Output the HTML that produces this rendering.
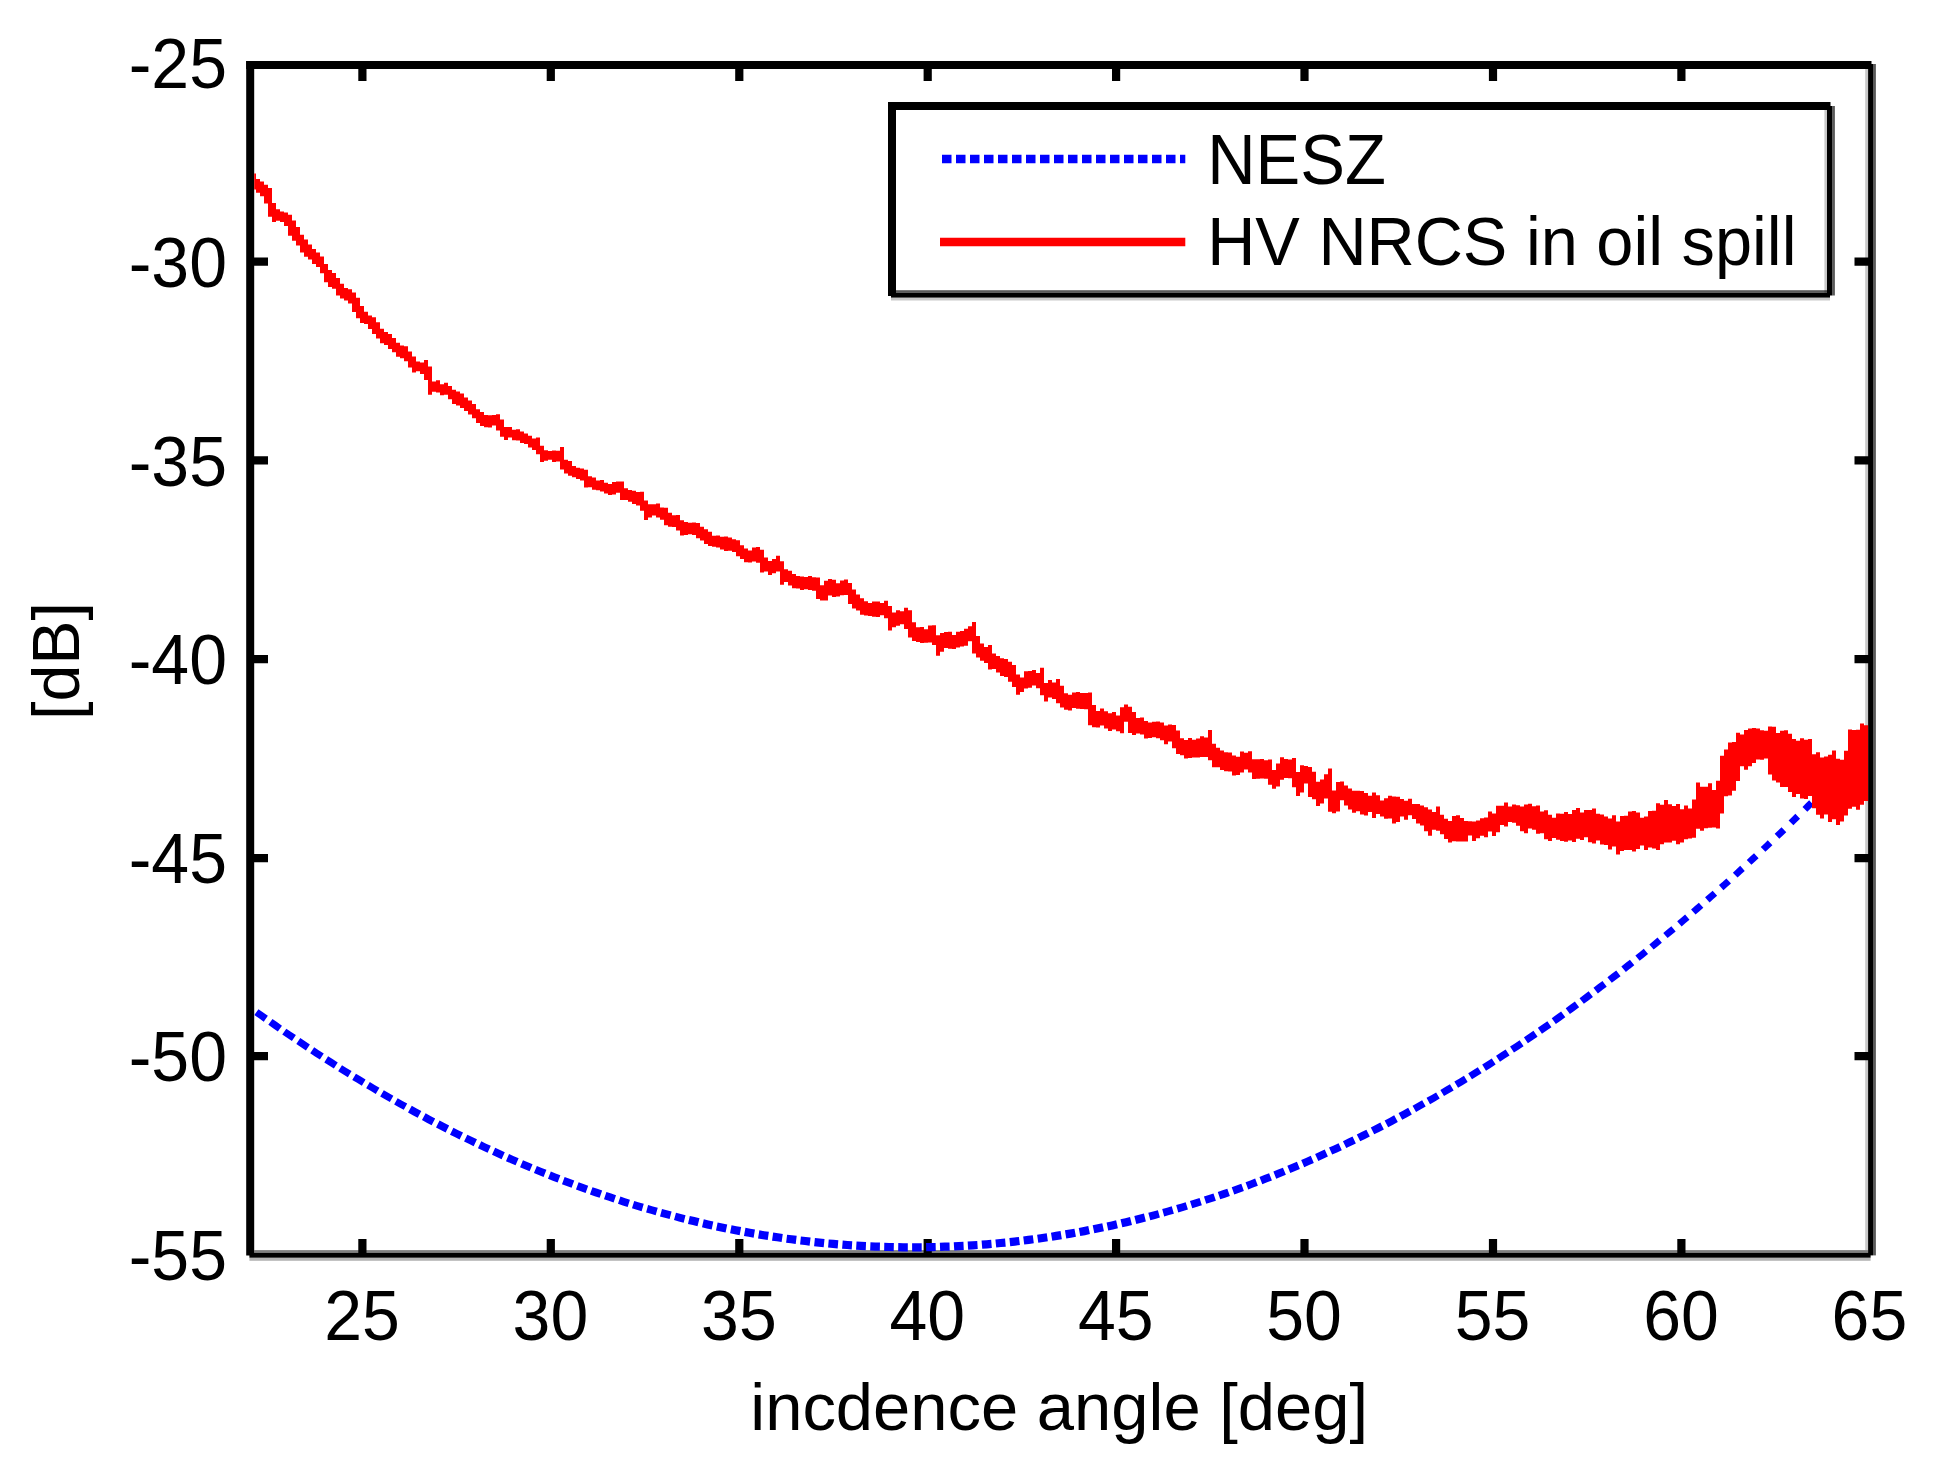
<!DOCTYPE html>
<html><head><meta charset="utf-8"><title>NESZ vs HV NRCS</title>
<style>html,body{margin:0;padding:0;background:#fff;overflow:hidden}svg{display:block}</style></head>
<body>
<svg width="1939" height="1480" viewBox="0 0 1939 1480">
<rect width="100%" height="100%" fill="#fff"/>
<defs><clipPath id="c"><rect x="254.2" y="69" width="1613.9" height="1183.8"/></clipPath></defs>
<rect x="1865.2" y="69" width="2.9" height="1181.1" fill="rgba(0,0,0,.215)"/>
<rect x="1873" y="64" width="2.9" height="1191.4" fill="rgba(0,0,0,.647)"/>
<rect x="254.2" y="1250.1" width="1613.9" height="2.7" fill="rgba(0,0,0,.5)"/>
<rect x="249.4" y="1257.7" width="1621.2" height="3.1" fill="rgba(0,0,0,.295)"/>
<rect x="246.2" y="61" width="8" height="1194.5" fill="#000"/>
<rect x="246.2" y="61" width="1625.3" height="8" fill="#000"/>
<rect x="1868.1" y="64" width="4.9" height="1191.4" fill="#000"/>
<rect x="249.4" y="1252.8" width="1621.2" height="4.9" fill="#000"/>
<path d="M362.4 1255 V1239 M362.4 65 V81 M550.8 1255 V1239 M550.8 65 V81 M739.3 1255 V1239 M739.3 65 V81 M927.7 1255 V1239 M927.7 65 V81 M1116.1 1255 V1239 M1116.1 65 V81 M1304.5 1255 V1239 M1304.5 65 V81 M1493.0 1255 V1239 M1493.0 65 V81 M1681.4 1255 V1239 M1681.4 65 V81 M250 261.6 H268 M1871.5 261.6 H1854.5 M250 460.3 H268 M1871.5 460.3 H1854.5 M250 659.2 H268 M1871.5 659.2 H1854.5 M250 858.2 H268 M1871.5 858.2 H1854.5 M250 1056.2 H268 M1871.5 1056.2 H1854.5" stroke="#000" stroke-width="8.2" fill="none"/>
<g clip-path="url(#c)">
<path d="M688.9 1220.0L693.7 1221.1L698.5 1222.3M702.9 1223.3L707.7 1224.4L712.5 1225.4M716.8 1226.4L721.6 1227.4L726.4 1228.4M730.8 1229.3L735.6 1230.2L740.4 1231.1M744.7 1231.9L749.5 1232.8L754.3 1233.6M758.7 1234.4L763.5 1235.2L768.3 1235.9M772.6 1236.6L777.4 1237.3L782.2 1238.0M786.6 1238.7L791.4 1239.3L796.2 1239.9M800.5 1240.5L805.3 1241.0L810.1 1241.6M814.5 1242.1L819.3 1242.6L824.1 1243.1M828.4 1243.5L833.2 1243.9L838.0 1244.3M842.4 1244.6L847.2 1245.0L852.0 1245.3M856.3 1245.6L861.1 1245.9L865.9 1246.1M870.3 1246.4L875.1 1246.6L879.9 1246.7M884.2 1246.9L889.0 1247.0L893.8 1247.1M898.2 1247.2L903.0 1247.3L907.8 1247.3M912.1 1247.3L916.9 1247.3L921.7 1247.3M926.1 1247.2L930.9 1247.1L935.7 1247.0M940.0 1246.9L944.8 1246.7L949.6 1246.6M954.0 1246.4L958.8 1246.1L963.6 1245.9M967.9 1245.6L972.7 1245.3L977.5 1245.0M981.9 1244.7L986.7 1244.3L991.5 1243.9M995.8 1243.5L1000.6 1243.0L1005.4 1242.6M1009.8 1242.1L1014.6 1241.6L1019.4 1241.0M1023.7 1240.5L1028.5 1239.9L1033.3 1239.3M1037.7 1238.7L1042.5 1238.0L1047.3 1237.3M1051.6 1236.7L1056.4 1235.9L1061.2 1235.1M1065.6 1234.4L1070.4 1233.6L1075.2 1232.7M1079.5 1232.0L1084.3 1231.1L1089.1 1230.1M1093.5 1229.3L1098.3 1228.3L1103.1 1227.3M1107.4 1226.4L1112.2 1225.4L1117.0 1224.3M1121.4 1223.3L1126.2 1222.2L1131.0 1221.0M1135.3 1220.0L1140.1 1218.8L1144.9 1217.6" fill="none" stroke="#00f" stroke-width="8.2"/>
<path d="M409.9 1109.1L414.7 1111.8L419.5 1114.4M423.8 1116.7L428.6 1119.3L433.4 1121.8M437.8 1124.0L442.6 1126.5L447.4 1129.0M451.7 1131.2L456.5 1133.6L461.3 1136.0M465.7 1138.1L470.5 1140.4L475.3 1142.7M479.6 1144.8L484.4 1147.1L489.2 1149.3M493.6 1151.3L498.4 1153.5L503.2 1155.7M507.5 1157.6L512.3 1159.7L517.1 1161.8M521.5 1163.7L526.3 1165.7L531.1 1167.7M535.4 1169.5L540.2 1171.5L545.0 1173.4M549.4 1175.2L554.2 1177.1L559.0 1178.9M563.3 1180.6L568.1 1182.4L572.9 1184.2M577.3 1185.8L582.1 1187.6L586.9 1189.3M591.2 1190.8L596.0 1192.5L600.9 1194.2M605.2 1195.6L610.0 1197.2L614.8 1198.8M619.2 1200.2L624.0 1201.8L628.8 1203.3M633.1 1204.6L637.9 1206.1L642.7 1207.5M647.1 1208.8L651.9 1210.1L656.7 1211.5M661.0 1212.7L665.8 1214.0L670.6 1215.3M675.0 1216.4L679.8 1217.7L684.6 1218.9M1149.3 1216.5L1154.1 1215.2L1158.9 1213.9M1163.2 1212.7L1168.0 1211.4L1172.8 1210.0M1177.2 1208.8L1182.0 1207.4L1186.8 1205.9M1191.1 1204.6L1195.9 1203.1L1200.7 1201.6M1205.1 1200.2L1209.9 1198.7L1214.7 1197.1M1219.0 1195.6L1223.8 1194.0L1228.6 1192.3M1233.0 1190.8L1237.8 1189.1L1242.6 1187.4M1246.9 1185.8L1251.7 1184.0L1256.5 1182.2M1260.9 1180.6L1265.7 1178.7L1270.5 1176.8M1274.8 1175.1L1279.6 1173.2L1284.4 1171.2M1288.8 1169.4L1293.6 1167.4L1298.4 1165.4M1302.7 1163.6L1307.5 1161.5L1312.3 1159.4M1316.7 1157.5L1321.5 1155.3L1326.3 1153.1M1330.6 1151.1L1335.4 1148.9L1340.2 1146.7M1344.6 1144.6L1349.4 1142.3L1354.2 1140.0M1358.5 1137.9L1363.3 1135.5L1368.1 1133.1M1372.5 1130.9L1377.3 1128.5L1382.1 1126.0M1386.4 1123.8L1391.2 1121.3L1396.0 1118.7M1400.4 1116.4L1405.2 1113.8L1410.0 1111.2" fill="none" stroke="#00f" stroke-width="7.7"/>
<path d="M242.5 1002.0L247.1 1005.3L251.7 1008.6M256.4 1012.1L261.1 1015.4L265.8 1018.7M270.4 1021.9L275.2 1025.3L279.9 1028.6M284.3 1031.6L289.1 1034.9L293.9 1038.1M298.3 1041.1L303.1 1044.3L307.9 1047.5M312.2 1050.3L317.0 1053.5L321.8 1056.6M326.2 1059.4L331.0 1062.4L335.8 1065.5M340.1 1068.2L344.9 1071.2L349.7 1074.1M354.1 1076.8L358.9 1079.7L363.7 1082.6M368.0 1085.2L372.8 1088.0L377.6 1090.9M382.0 1093.4L386.8 1096.2L391.6 1098.9M395.9 1101.4L400.7 1104.1L405.5 1106.7M1414.3 1108.8L1419.1 1106.1L1423.9 1103.4M1428.3 1101.0L1433.1 1098.3L1437.9 1095.5M1442.2 1093.0L1447.0 1090.2L1451.8 1087.3M1456.2 1084.7L1461.0 1081.8L1465.8 1078.9M1470.1 1076.3L1474.9 1073.3L1479.7 1070.3M1484.1 1067.6L1488.9 1064.6L1493.7 1061.5M1498.0 1058.7L1502.8 1055.6L1507.6 1052.5M1512.0 1049.6L1516.8 1046.5L1521.6 1043.3M1525.9 1040.3L1530.7 1037.1L1535.5 1033.8M1539.9 1030.8L1544.6 1027.5L1549.4 1024.2M1553.8 1021.1L1558.5 1017.8L1563.2 1014.4M1567.8 1011.1L1572.4 1007.8L1577.0 1004.4M1581.7 1001.0L1586.2 997.6L1590.8 994.2M1595.7 990.6L1600.1 987.2L1604.6 983.9M1609.6 980.0L1614.0 976.6L1618.4 973.3M1623.6 969.2L1627.8 965.8L1632.1 962.5" fill="none" stroke="#00f" stroke-width="7.2"/>
<path d="M1637.5 958.2L1641.7 954.8L1645.9 951.4M1651.5 947.0L1655.6 943.6L1659.7 940.2M1665.4 935.5L1669.5 932.1L1673.5 928.8M1679.4 923.9L1683.3 920.5L1687.3 917.1M1693.3 912.0L1697.2 908.6L1701.1 905.2M1707.3 899.9L1711.1 896.5L1714.9 893.2M1721.2 887.6L1725.0 884.3L1728.7 880.9M1735.2 875.1L1738.8 871.7L1742.5 868.4M1749.1 862.4L1752.7 859.0L1756.3 855.7M1763.1 849.4L1766.6 846.1L1770.1 842.8M1777.0 836.3L1780.5 833.0L1783.9 829.7M1791.0 822.9L1794.3 819.6L1797.7 816.3M1804.9 809.3L1808.2 806.0L1811.5 802.8M1818.9 795.5L1822.1 792.2L1825.4 788.9M1832.8 781.5L1836.1 778.2L1839.3 774.9M1846.8 767.3L1850.0 764.0L1853.2 760.6" fill="none" stroke="#00f" stroke-width="6.8"/>
<path d="M248.0 172.0L248.0 172.0L252.0 172.0L252.0 173.6L256.0 173.6L256.0 179.1L260.0 179.1L260.0 181.5L264.0 181.5L264.0 184.7L268.0 184.7L268.0 187.9L272.0 187.9L272.0 203.1L276.0 203.1L276.0 209.2L280.0 209.2L280.0 211.4L284.0 211.4L284.0 212.4L288.0 212.4L288.0 214.8L292.0 214.8L292.0 220.6L296.0 220.6L296.0 227.0L300.0 227.0L300.0 234.7L304.0 234.7L304.0 239.5L308.0 239.5L308.0 244.5L312.0 244.5L312.0 249.0L316.0 249.0L316.0 252.4L320.0 252.4L320.0 256.6L324.0 256.6L324.0 263.9L328.0 263.9L328.0 270.0L332.0 270.0L332.0 273.1L336.0 273.1L336.0 278.0L340.0 278.0L340.0 283.8L344.0 283.8L344.0 288.0L348.0 288.0L348.0 289.2L352.0 289.2L352.0 292.5L356.0 292.5L356.0 297.8L360.0 297.8L360.0 305.9L364.0 305.9L364.0 311.7L368.0 311.7L368.0 315.6L372.0 315.6L372.0 317.2L376.0 317.2L376.0 322.2L380.0 322.2L380.0 328.7L384.0 328.7L384.0 331.9L388.0 331.9L388.0 334.0L392.0 334.0L392.0 338.0L396.0 338.0L396.0 342.8L400.0 342.8L400.0 345.6L404.0 345.6L404.0 346.2L408.0 346.2L408.0 351.4L412.0 351.4L412.0 356.4L416.0 356.4L416.0 361.6L420.0 361.6L420.0 362.4L424.0 362.4L424.0 360.1L428.0 360.1L428.0 366.6L432.0 366.6L432.0 381.5L436.0 381.5L436.0 380.3L440.0 380.3L440.0 384.2L444.0 384.2L444.0 382.7L448.0 382.7L448.0 385.9L452.0 385.9L452.0 389.7L456.0 389.7L456.0 391.6L460.0 391.6L460.0 393.4L464.0 393.4L464.0 397.4L468.0 397.4L468.0 400.5L472.0 400.5L472.0 403.9L476.0 403.9L476.0 409.2L480.0 409.2L480.0 412.0L484.0 412.0L484.0 415.1L488.0 415.1L488.0 415.3L492.0 415.3L492.0 415.1L496.0 415.1L496.0 414.2L500.0 414.2L500.0 419.4L504.0 419.4L504.0 427.0L508.0 427.0L508.0 426.9L512.0 426.9L512.0 429.7L516.0 429.7L516.0 429.2L520.0 429.2L520.0 431.4L524.0 431.4L524.0 433.5L528.0 433.5L528.0 435.8L532.0 435.8L532.0 438.4L536.0 438.4L536.0 437.6L540.0 437.6L540.0 445.8L544.0 445.8L544.0 450.3L548.0 450.3L548.0 450.9L552.0 450.9L552.0 450.4L556.0 450.4L556.0 450.7L560.0 450.7L560.0 447.1L564.0 447.1L564.0 459.7L568.0 459.7L568.0 461.1L572.0 461.1L572.0 466.1L576.0 466.1L576.0 467.7L580.0 467.7L580.0 468.5L584.0 468.5L584.0 469.7L588.0 469.7L588.0 476.2L592.0 476.2L592.0 477.4L596.0 477.4L596.0 480.5L600.0 480.5L600.0 480.0L604.0 480.0L604.0 482.8L608.0 482.8L608.0 484.1L612.0 484.1L612.0 481.9L616.0 481.9L616.0 481.6L620.0 481.6L620.0 481.6L624.0 481.6L624.0 488.2L628.0 488.2L628.0 490.1L632.0 490.1L632.0 490.7L636.0 490.7L636.0 492.0L640.0 492.0L640.0 491.8L644.0 491.8L644.0 500.4L648.0 500.4L648.0 504.3L652.0 504.3L652.0 504.3L656.0 504.3L656.0 503.5L660.0 503.5L660.0 507.4L664.0 507.4L664.0 507.7L668.0 507.7L668.0 512.7L672.0 512.7L672.0 515.2L676.0 515.2L676.0 514.9L680.0 514.9L680.0 520.3L684.0 520.3L684.0 521.9L688.0 521.9L688.0 522.7L692.0 522.7L692.0 522.4L696.0 522.4L696.0 522.9L700.0 522.9L700.0 526.7L704.0 526.7L704.0 529.2L708.0 529.2L708.0 531.7L712.0 531.7L712.0 535.7L716.0 535.7L716.0 535.6L720.0 535.6L720.0 536.8L724.0 536.8L724.0 536.6L728.0 536.6L728.0 537.5L732.0 537.5L732.0 539.2L736.0 539.2L736.0 540.2L740.0 540.2L740.0 545.3L744.0 545.3L744.0 548.5L748.0 548.5L748.0 550.6L752.0 550.6L752.0 547.4L756.0 547.4L756.0 546.9L760.0 546.9L760.0 549.7L764.0 549.7L764.0 557.4L768.0 557.4L768.0 560.9L772.0 560.9L772.0 559.0L776.0 559.0L776.0 555.8L780.0 555.8L780.0 561.3L784.0 561.3L784.0 569.3L788.0 569.3L788.0 570.8L792.0 570.8L792.0 573.9L796.0 573.9L796.0 575.9L800.0 575.9L800.0 576.5L804.0 576.5L804.0 576.9L808.0 576.9L808.0 575.9L812.0 575.9L812.0 577.2L816.0 577.2L816.0 577.4L820.0 577.4L820.0 585.3L824.0 585.3L824.0 580.8L828.0 580.8L828.0 579.1L832.0 579.1L832.0 579.7L836.0 579.7L836.0 583.2L840.0 583.2L840.0 580.5L844.0 580.5L844.0 579.4L848.0 579.4L848.0 582.9L852.0 582.9L852.0 589.5L856.0 589.5L856.0 594.4L860.0 594.4L860.0 598.3L864.0 598.3L864.0 601.3L868.0 601.3L868.0 603.0L872.0 603.0L872.0 601.4L876.0 601.4L876.0 601.5L880.0 601.5L880.0 603.0L884.0 603.0L884.0 600.7L888.0 600.7L888.0 605.9L892.0 605.9L892.0 612.5L896.0 612.5L896.0 610.2L900.0 610.2L900.0 611.2L904.0 611.2L904.0 607.8L908.0 607.8L908.0 610.3L912.0 610.3L912.0 622.3L916.0 622.3L916.0 627.2L920.0 627.2L920.0 626.9L924.0 626.9L924.0 629.2L928.0 629.2L928.0 625.5L932.0 625.5L932.0 625.3L936.0 625.3L936.0 635.2L940.0 635.2L940.0 632.9L944.0 632.9L944.0 632.1L948.0 632.1L948.0 631.8L952.0 631.8L952.0 635.1L956.0 635.1L956.0 631.8L960.0 631.8L960.0 631.0L964.0 631.0L964.0 628.7L968.0 628.7L968.0 626.3L972.0 626.3L972.0 622.1L976.0 622.1L976.0 636.0L980.0 636.0L980.0 643.4L984.0 643.4L984.0 646.9L988.0 646.9L988.0 645.1L992.0 645.1L992.0 653.5L996.0 653.5L996.0 656.0L1000.0 656.0L1000.0 658.2L1004.0 658.2L1004.0 659.0L1008.0 659.0L1008.0 661.7L1012.0 661.7L1012.0 664.9L1016.0 664.9L1016.0 674.6L1020.0 674.6L1020.0 677.5L1024.0 677.5L1024.0 671.3L1028.0 671.3L1028.0 670.9L1032.0 670.9L1032.0 670.0L1036.0 670.0L1036.0 673.0L1040.0 673.0L1040.0 667.7L1044.0 667.7L1044.0 682.9L1048.0 682.9L1048.0 680.1L1052.0 680.1L1052.0 682.4L1056.0 682.4L1056.0 679.1L1060.0 679.1L1060.0 685.8L1064.0 685.8L1064.0 693.3L1068.0 693.3L1068.0 694.7L1072.0 694.7L1072.0 692.5L1076.0 692.5L1076.0 692.0L1080.0 692.0L1080.0 693.0L1084.0 693.0L1084.0 692.9L1088.0 692.9L1088.0 692.6L1092.0 692.6L1092.0 704.9L1096.0 704.9L1096.0 711.1L1100.0 711.1L1100.0 708.5L1104.0 708.5L1104.0 711.2L1108.0 711.2L1108.0 713.2L1112.0 713.2L1112.0 712.1L1116.0 712.1L1116.0 715.4L1120.0 715.4L1120.0 707.3L1124.0 707.3L1124.0 704.6L1128.0 704.6L1128.0 706.8L1132.0 706.8L1132.0 712.0L1136.0 712.0L1136.0 718.0L1140.0 718.0L1140.0 717.6L1144.0 717.6L1144.0 721.1L1148.0 721.1L1148.0 722.4L1152.0 722.4L1152.0 721.8L1156.0 721.8L1156.0 721.4L1160.0 721.4L1160.0 722.6L1164.0 722.6L1164.0 725.5L1168.0 725.5L1168.0 724.5L1172.0 724.5L1172.0 724.9L1176.0 724.9L1176.0 730.5L1180.0 730.5L1180.0 738.2L1184.0 738.2L1184.0 740.1L1188.0 740.1L1188.0 738.1L1192.0 738.1L1192.0 739.8L1196.0 739.8L1196.0 738.5L1200.0 738.5L1200.0 736.3L1204.0 736.3L1204.0 737.6L1208.0 737.6L1208.0 730.1L1212.0 730.1L1212.0 743.7L1216.0 743.7L1216.0 747.7L1220.0 747.7L1220.0 750.6L1224.0 750.6L1224.0 752.3L1228.0 752.3L1228.0 752.5L1232.0 752.5L1232.0 755.6L1236.0 755.6L1236.0 756.8L1240.0 756.8L1240.0 751.5L1244.0 751.5L1244.0 752.7L1248.0 752.7L1248.0 751.2L1252.0 751.2L1252.0 759.3L1256.0 759.3L1256.0 759.2L1260.0 759.2L1260.0 759.0L1264.0 759.0L1264.0 760.3L1268.0 760.3L1268.0 759.6L1272.0 759.6L1272.0 770.1L1276.0 770.1L1276.0 763.4L1280.0 763.4L1280.0 757.3L1284.0 757.3L1284.0 758.9L1288.0 758.9L1288.0 759.5L1292.0 759.5L1292.0 758.0L1296.0 758.0L1296.0 771.9L1300.0 771.9L1300.0 765.3L1304.0 765.3L1304.0 766.0L1308.0 766.0L1308.0 767.0L1312.0 767.0L1312.0 771.7L1316.0 771.7L1316.0 781.8L1320.0 781.8L1320.0 779.5L1324.0 779.5L1324.0 774.2L1328.0 774.2L1328.0 768.6L1332.0 768.6L1332.0 790.6L1336.0 790.6L1336.0 782.0L1340.0 782.0L1340.0 781.6L1344.0 781.6L1344.0 785.4L1348.0 785.4L1348.0 788.4L1352.0 788.4L1352.0 790.8L1356.0 790.8L1356.0 790.8L1360.0 790.8L1360.0 811.3L1356.0 811.3L1356.0 812.7L1352.0 812.7L1352.0 809.5L1348.0 809.5L1348.0 805.6L1344.0 805.6L1344.0 800.3L1340.0 800.3L1340.0 811.4L1336.0 811.4L1336.0 813.2L1332.0 813.2L1332.0 811.7L1328.0 811.7L1328.0 798.4L1324.0 798.4L1324.0 803.6L1320.0 803.6L1320.0 806.1L1316.0 806.1L1316.0 799.2L1312.0 799.2L1312.0 796.9L1308.0 796.9L1308.0 783.5L1304.0 783.5L1304.0 792.6L1300.0 792.6L1300.0 796.1L1296.0 796.1L1296.0 787.2L1292.0 787.2L1292.0 778.3L1288.0 778.3L1288.0 778.0L1284.0 778.0L1284.0 779.7L1280.0 779.7L1280.0 786.4L1276.0 786.4L1276.0 788.8L1272.0 788.8L1272.0 784.8L1268.0 784.8L1268.0 778.8L1264.0 778.8L1264.0 778.6L1260.0 778.6L1260.0 778.7L1256.0 778.7L1256.0 779.0L1252.0 779.0L1252.0 772.5L1248.0 772.5L1248.0 769.4L1244.0 769.4L1244.0 772.4L1240.0 772.4L1240.0 775.0L1236.0 775.0L1236.0 775.6L1232.0 775.6L1232.0 771.5L1228.0 771.5L1228.0 771.2L1224.0 771.2L1224.0 770.1L1220.0 770.1L1220.0 767.3L1216.0 767.3L1216.0 767.3L1212.0 767.3L1212.0 760.3L1208.0 760.3L1208.0 757.0L1204.0 757.0L1204.0 756.9L1200.0 756.9L1200.0 757.4L1196.0 757.4L1196.0 757.4L1192.0 757.4L1192.0 757.9L1188.0 757.9L1188.0 758.4L1184.0 758.4L1184.0 755.2L1180.0 755.2L1180.0 754.1L1176.0 754.1L1176.0 748.3L1172.0 748.3L1172.0 741.4L1168.0 741.4L1168.0 744.3L1164.0 744.3L1164.0 740.3L1160.0 740.3L1160.0 738.3L1156.0 738.3L1156.0 737.2L1152.0 737.2L1152.0 737.9L1148.0 737.9L1148.0 738.4L1144.0 738.4L1144.0 734.6L1140.0 734.6L1140.0 733.5L1136.0 733.5L1136.0 735.1L1132.0 735.1L1132.0 732.9L1128.0 732.9L1128.0 721.8L1124.0 721.8L1124.0 733.2L1120.0 733.2L1120.0 731.2L1116.0 731.2L1116.0 729.5L1112.0 729.5L1112.0 730.9L1108.0 730.9L1108.0 728.5L1104.0 728.5L1104.0 725.5L1100.0 725.5L1100.0 727.6L1096.0 727.6L1096.0 727.3L1092.0 727.3L1092.0 725.3L1088.0 725.3L1088.0 709.3L1084.0 709.3L1084.0 709.1L1080.0 709.1L1080.0 708.7L1076.0 708.7L1076.0 708.0L1072.0 708.0L1072.0 710.4L1068.0 710.4L1068.0 709.8L1064.0 709.8L1064.0 707.4L1060.0 707.4L1060.0 703.3L1056.0 703.3L1056.0 699.1L1052.0 699.1L1052.0 697.4L1048.0 697.4L1048.0 701.5L1044.0 701.5L1044.0 695.2L1040.0 695.2L1040.0 688.3L1036.0 688.3L1036.0 685.5L1032.0 685.5L1032.0 687.7L1028.0 687.7L1028.0 688.5L1024.0 688.5L1024.0 691.9L1020.0 691.9L1020.0 694.8L1016.0 694.8L1016.0 686.9L1012.0 686.9L1012.0 681.8L1008.0 681.8L1008.0 677.0L1004.0 677.0L1004.0 676.1L1000.0 676.1L1000.0 672.4L996.0 672.4L996.0 669.1L992.0 669.1L992.0 669.6L988.0 669.6L988.0 663.1L984.0 663.1L984.0 660.7L980.0 660.7L980.0 657.4L976.0 657.4L976.0 653.5L972.0 653.5L972.0 641.2L968.0 641.2L968.0 645.7L964.0 645.7L964.0 646.4L960.0 646.4L960.0 647.5L956.0 647.5L956.0 648.9L952.0 648.9L952.0 648.8L948.0 648.8L948.0 648.0L944.0 648.0L944.0 651.7L940.0 651.7L940.0 655.8L936.0 655.8L936.0 644.9L932.0 644.9L932.0 642.6L928.0 642.6L928.0 642.8L924.0 642.8L924.0 643.1L920.0 643.1L920.0 641.9L916.0 641.9L916.0 641.0L912.0 641.0L912.0 637.6L908.0 637.6L908.0 628.9L904.0 628.9L904.0 624.3L900.0 624.3L900.0 625.8L896.0 625.8L896.0 627.2L892.0 627.2L892.0 630.5L888.0 630.5L888.0 618.2L884.0 618.2L884.0 615.2L880.0 615.2L880.0 617.1L876.0 617.1L876.0 616.8L872.0 616.8L872.0 616.1L868.0 616.1L868.0 615.6L864.0 615.6L864.0 614.7L860.0 614.7L860.0 610.4L856.0 610.4L856.0 608.5L852.0 608.5L852.0 603.9L848.0 603.9L848.0 595.1L844.0 595.1L844.0 595.3L840.0 595.3L840.0 596.6L836.0 596.6L836.0 597.0L832.0 597.0L832.0 595.4L828.0 595.4L828.0 600.6L824.0 600.6L824.0 600.6L820.0 600.6L820.0 598.9L816.0 598.9L816.0 590.7L812.0 590.7L812.0 590.0L808.0 590.0L808.0 589.3L804.0 589.3L804.0 589.9L800.0 589.9L800.0 588.5L796.0 588.5L796.0 588.2L792.0 588.2L792.0 585.6L788.0 585.6L788.0 582.0L784.0 582.0L784.0 584.8L780.0 584.8L780.0 571.4L776.0 571.4L776.0 573.3L772.0 573.3L772.0 575.0L768.0 575.0L768.0 571.4L764.0 571.4L764.0 572.4L760.0 572.4L760.0 562.7L756.0 562.7L756.0 561.6L752.0 561.6L752.0 562.4L748.0 562.4L748.0 562.2L744.0 562.2L744.0 559.0L740.0 559.0L740.0 556.3L736.0 556.3L736.0 552.0L732.0 552.0L732.0 550.7L728.0 550.7L728.0 550.9L724.0 550.9L724.0 549.5L720.0 549.5L720.0 547.5L716.0 547.5L716.0 546.8L712.0 546.8L712.0 546.1L708.0 546.1L708.0 543.9L704.0 543.9L704.0 540.4L700.0 540.4L700.0 538.3L696.0 538.3L696.0 534.9L692.0 534.9L692.0 534.2L688.0 534.2L688.0 534.9L684.0 534.9L684.0 535.6L680.0 535.6L680.0 530.6L676.0 530.6L676.0 527.0L672.0 527.0L672.0 526.7L668.0 526.7L668.0 525.2L664.0 525.2L664.0 519.7L660.0 519.7L660.0 517.5L656.0 517.5L656.0 515.4L652.0 515.4L652.0 517.5L648.0 517.5L648.0 520.0L644.0 520.0L644.0 510.8L640.0 510.8L640.0 505.5L636.0 505.5L636.0 504.1L632.0 504.1L632.0 501.8L628.0 501.8L628.0 499.9L624.0 499.9L624.0 500.1L620.0 500.1L620.0 492.8L616.0 492.8L616.0 494.4L612.0 494.4L612.0 495.0L608.0 495.0L608.0 493.4L604.0 493.4L604.0 491.4L600.0 491.4L600.0 490.2L596.0 490.2L596.0 489.8L592.0 489.8L592.0 487.2L588.0 487.2L588.0 487.6L584.0 487.6L584.0 480.5L580.0 480.5L580.0 478.9L576.0 478.9L576.0 477.2L572.0 477.2L572.0 475.7L568.0 475.7L568.0 473.4L564.0 473.4L564.0 469.6L560.0 469.6L560.0 461.4L556.0 461.4L556.0 462.0L552.0 462.0L552.0 459.8L548.0 459.8L548.0 460.7L544.0 460.7L544.0 462.1L540.0 462.1L540.0 454.2L536.0 454.2L536.0 450.1L532.0 450.1L532.0 447.6L528.0 447.6L528.0 444.0L524.0 444.0L524.0 442.9L520.0 442.9L520.0 440.4L516.0 440.4L516.0 440.3L512.0 440.3L512.0 437.5L508.0 437.5L508.0 439.9L504.0 439.9L504.0 436.8L500.0 436.8L500.0 430.6L496.0 430.6L496.0 425.5L492.0 425.5L492.0 427.5L488.0 427.5L488.0 427.2L484.0 427.2L484.0 426.1L480.0 426.1L480.0 422.9L476.0 422.9L476.0 418.2L472.0 418.2L472.0 414.6L468.0 414.6L468.0 411.0L464.0 411.0L464.0 408.0L460.0 408.0L460.0 405.4L456.0 405.4L456.0 404.0L452.0 404.0L452.0 399.3L448.0 399.3L448.0 394.7L444.0 394.7L444.0 395.2L440.0 395.2L440.0 392.4L436.0 392.4L436.0 391.7L432.0 391.7L432.0 394.8L428.0 394.8L428.0 380.1L424.0 380.1L424.0 373.9L420.0 373.9L420.0 371.3L416.0 371.3L416.0 372.5L412.0 372.5L412.0 367.4L408.0 367.4L408.0 361.3L404.0 361.3L404.0 358.2L400.0 358.2L400.0 356.7L396.0 356.7L396.0 352.2L392.0 352.2L392.0 348.9L388.0 348.9L388.0 344.9L384.0 344.9L384.0 343.3L380.0 343.3L380.0 338.5L376.0 338.5L376.0 333.9L372.0 333.9L372.0 328.9L368.0 328.9L368.0 324.0L364.0 324.0L364.0 323.0L360.0 323.0L360.0 318.3L356.0 318.3L356.0 312.0L352.0 312.0L352.0 303.5L348.0 303.5L348.0 300.4L344.0 300.4L344.0 298.5L340.0 298.5L340.0 295.4L336.0 295.4L336.0 288.7L332.0 288.7L332.0 286.9L328.0 286.9L328.0 282.3L324.0 282.3L324.0 273.3L320.0 273.3L320.0 267.1L316.0 267.1L316.0 264.0L312.0 264.0L312.0 259.6L308.0 259.6L308.0 256.7L304.0 256.7L304.0 252.6L300.0 252.6L300.0 245.5L296.0 245.5L296.0 240.8L292.0 240.8L292.0 235.7L288.0 235.7L288.0 226.0L284.0 226.0L284.0 222.1L280.0 222.1L280.0 220.7L276.0 220.7L276.0 222.1L272.0 222.1L272.0 216.7L268.0 216.7L268.0 203.6L264.0 203.6L264.0 196.2L260.0 196.2L260.0 192.8L256.0 192.8L256.0 189.4L252.0 189.4L252.0 183.5L248.0 183.5Z" fill="#f00"/>
<path d="M1360.0 791.1L1360.0 791.1L1364.0 791.1L1364.0 793.0L1368.0 793.0L1368.0 795.8L1372.0 795.8L1372.0 792.5L1376.0 792.5L1376.0 795.2L1380.0 795.2L1380.0 800.6L1384.0 800.6L1384.0 798.3L1388.0 798.3L1388.0 795.7L1392.0 795.7L1392.0 796.4L1396.0 796.4L1396.0 796.8L1400.0 796.8L1400.0 799.0L1404.0 799.0L1404.0 800.8L1408.0 800.8L1408.0 798.8L1412.0 798.8L1412.0 804.0L1416.0 804.0L1416.0 804.1L1420.0 804.1L1420.0 805.4L1424.0 805.4L1424.0 807.2L1428.0 807.2L1428.0 809.4L1432.0 809.4L1432.0 812.1L1436.0 812.1L1436.0 806.6L1440.0 806.6L1440.0 814.7L1444.0 814.7L1444.0 818.8L1448.0 818.8L1448.0 821.1L1452.0 821.1L1452.0 816.0L1456.0 816.0L1456.0 815.2L1460.0 815.2L1460.0 817.9L1464.0 817.9L1464.0 821.1L1468.0 821.1L1468.0 821.3L1472.0 821.3L1472.0 821.5L1476.0 821.5L1476.0 820.6L1480.0 820.6L1480.0 818.2L1484.0 818.2L1484.0 817.4L1488.0 817.4L1488.0 811.5L1492.0 811.5L1492.0 813.5L1496.0 813.5L1496.0 805.8L1500.0 805.8L1500.0 805.8L1504.0 805.8L1504.0 802.6L1508.0 802.6L1508.0 806.4L1512.0 806.4L1512.0 804.6L1516.0 804.6L1516.0 805.3L1520.0 805.3L1520.0 806.6L1524.0 806.6L1524.0 804.5L1528.0 804.5L1528.0 803.7L1532.0 803.7L1532.0 806.3L1536.0 806.3L1536.0 805.6L1540.0 805.6L1540.0 811.4L1544.0 811.4L1544.0 810.2L1548.0 810.2L1548.0 814.8L1552.0 814.8L1552.0 817.7L1556.0 817.7L1556.0 813.5L1560.0 813.5L1560.0 813.7L1564.0 813.7L1564.0 812.1L1568.0 812.1L1568.0 814.1L1572.0 814.1L1572.0 809.9L1576.0 809.9L1576.0 807.9L1580.0 807.9L1580.0 812.4L1584.0 812.4L1584.0 810.1L1588.0 810.1L1588.0 810.1L1592.0 810.1L1592.0 808.4L1596.0 808.4L1596.0 813.7L1600.0 813.7L1600.0 814.6L1604.0 814.6L1604.0 816.4L1608.0 816.4L1608.0 818.4L1612.0 818.4L1612.0 815.3L1616.0 815.3L1616.0 821.4L1620.0 821.4L1620.0 815.9L1624.0 815.9L1624.0 815.7L1628.0 815.7L1628.0 811.5L1632.0 811.5L1632.0 810.9L1636.0 810.9L1636.0 812.4L1640.0 812.4L1640.0 817.7L1644.0 817.7L1644.0 816.5L1648.0 816.5L1648.0 811.0L1652.0 811.0L1652.0 810.8L1656.0 810.8L1656.0 803.2L1660.0 803.2L1660.0 804.7L1664.0 804.7L1664.0 800.1L1668.0 800.1L1668.0 804.3L1672.0 804.3L1672.0 806.1L1676.0 806.1L1676.0 804.1L1680.0 804.1L1680.0 809.2L1684.0 809.2L1684.0 805.5L1688.0 805.5L1688.0 808.5L1692.0 808.5L1692.0 799.4L1696.0 799.4L1696.0 782.4L1700.0 782.4L1700.0 786.7L1704.0 786.7L1704.0 786.7L1708.0 786.7L1708.0 783.2L1712.0 783.2L1712.0 789.9L1716.0 789.9L1716.0 780.7L1720.0 780.7L1720.0 755.7L1724.0 755.7L1724.0 749.4L1728.0 749.4L1728.0 742.4L1732.0 742.4L1732.0 742.0L1736.0 742.0L1736.0 732.8L1740.0 732.8L1740.0 734.4L1744.0 734.4L1744.0 729.9L1748.0 729.9L1748.0 728.6L1752.0 728.6L1752.0 728.0L1756.0 728.0L1756.0 728.4L1760.0 728.4L1760.0 730.3L1764.0 730.3L1764.0 730.7L1768.0 730.7L1768.0 726.6L1772.0 726.6L1772.0 726.8L1776.0 726.8L1776.0 733.0L1780.0 733.0L1780.0 730.7L1784.0 730.7L1784.0 730.3L1788.0 730.3L1788.0 733.7L1792.0 733.7L1792.0 739.1L1796.0 739.1L1796.0 740.8L1800.0 740.8L1800.0 738.3L1804.0 738.3L1804.0 739.8L1808.0 739.8L1808.0 739.0L1812.0 739.0L1812.0 754.2L1816.0 754.2L1816.0 752.3L1820.0 752.3L1820.0 757.6L1824.0 757.6L1824.0 756.6L1828.0 756.6L1828.0 754.8L1832.0 754.8L1832.0 750.4L1836.0 750.4L1836.0 758.7L1840.0 758.7L1840.0 759.7L1844.0 759.7L1844.0 750.7L1848.0 750.7L1848.0 729.5L1852.0 729.5L1852.0 729.9L1856.0 729.9L1856.0 729.8L1860.0 729.8L1860.0 723.6L1864.0 723.6L1864.0 725.2L1868.0 725.2L1868.0 725.4L1872.0 725.4L1872.0 801.8L1868.0 801.8L1868.0 801.0L1864.0 801.0L1864.0 804.8L1860.0 804.8L1860.0 809.8L1856.0 809.8L1856.0 806.8L1852.0 806.8L1852.0 808.8L1848.0 808.8L1848.0 815.4L1844.0 815.4L1844.0 821.5L1840.0 821.5L1840.0 825.0L1836.0 825.0L1836.0 819.3L1832.0 819.3L1832.0 821.9L1828.0 821.9L1828.0 814.5L1824.0 814.5L1824.0 818.6L1820.0 818.6L1820.0 814.8L1816.0 814.8L1816.0 808.3L1812.0 808.3L1812.0 795.9L1808.0 795.9L1808.0 799.0L1804.0 799.0L1804.0 798.6L1800.0 798.6L1800.0 793.9L1796.0 793.9L1796.0 797.1L1792.0 797.1L1792.0 791.9L1788.0 791.9L1788.0 786.9L1784.0 786.9L1784.0 787.0L1780.0 787.0L1780.0 782.6L1776.0 782.6L1776.0 780.6L1772.0 780.6L1772.0 774.4L1768.0 774.4L1768.0 758.4L1764.0 758.4L1764.0 759.8L1760.0 759.8L1760.0 759.4L1756.0 759.4L1756.0 763.0L1752.0 763.0L1752.0 766.2L1748.0 766.2L1748.0 769.8L1744.0 769.8L1744.0 766.3L1740.0 766.3L1740.0 780.9L1736.0 780.9L1736.0 790.7L1732.0 790.7L1732.0 795.5L1728.0 795.5L1728.0 796.3L1724.0 796.3L1724.0 813.4L1720.0 813.4L1720.0 828.6L1716.0 828.6L1716.0 827.6L1712.0 827.6L1712.0 827.7L1708.0 827.7L1708.0 828.3L1704.0 828.3L1704.0 830.8L1700.0 830.8L1700.0 828.7L1696.0 828.7L1696.0 837.8L1692.0 837.8L1692.0 838.6L1688.0 838.6L1688.0 839.2L1684.0 839.2L1684.0 842.6L1680.0 842.6L1680.0 844.3L1676.0 844.3L1676.0 840.7L1672.0 840.7L1672.0 842.4L1668.0 842.4L1668.0 842.4L1664.0 842.4L1664.0 844.2L1660.0 844.2L1660.0 850.0L1656.0 850.0L1656.0 848.6L1652.0 848.6L1652.0 847.5L1648.0 847.5L1648.0 850.1L1644.0 850.1L1644.0 845.5L1640.0 845.5L1640.0 848.9L1636.0 848.9L1636.0 851.5L1632.0 851.5L1632.0 849.9L1628.0 849.9L1628.0 850.0L1624.0 850.0L1624.0 850.9L1620.0 850.9L1620.0 854.5L1616.0 854.5L1616.0 846.5L1612.0 846.5L1612.0 849.5L1608.0 849.5L1608.0 845.1L1604.0 845.1L1604.0 844.4L1600.0 844.4L1600.0 840.6L1596.0 840.6L1596.0 843.5L1592.0 843.5L1592.0 842.2L1588.0 842.2L1588.0 837.3L1584.0 837.3L1584.0 840.1L1580.0 840.1L1580.0 838.8L1576.0 838.8L1576.0 841.9L1572.0 841.9L1572.0 840.6L1568.0 840.6L1568.0 841.7L1564.0 841.7L1564.0 841.1L1560.0 841.1L1560.0 839.7L1556.0 839.7L1556.0 837.9L1552.0 837.9L1552.0 841.1L1548.0 841.1L1548.0 839.3L1544.0 839.3L1544.0 833.2L1540.0 833.2L1540.0 833.8L1536.0 833.8L1536.0 829.8L1532.0 829.8L1532.0 828.4L1528.0 828.4L1528.0 833.2L1524.0 833.2L1524.0 831.3L1520.0 831.3L1520.0 825.7L1516.0 825.7L1516.0 822.8L1512.0 822.8L1512.0 822.0L1508.0 822.0L1508.0 826.6L1504.0 826.6L1504.0 824.9L1500.0 824.9L1500.0 832.2L1496.0 832.2L1496.0 836.1L1492.0 836.1L1492.0 831.6L1488.0 831.6L1488.0 837.2L1484.0 837.2L1484.0 835.8L1480.0 835.8L1480.0 838.3L1476.0 838.3L1476.0 841.1L1472.0 841.1L1472.0 835.5L1468.0 835.5L1468.0 841.5L1464.0 841.5L1464.0 841.4L1460.0 841.4L1460.0 841.6L1456.0 841.6L1456.0 841.3L1452.0 841.3L1452.0 842.4L1448.0 842.4L1448.0 838.9L1444.0 838.9L1444.0 834.3L1440.0 834.3L1440.0 830.7L1436.0 830.7L1436.0 829.8L1432.0 829.8L1432.0 835.7L1428.0 835.7L1428.0 831.3L1424.0 831.3L1424.0 825.5L1420.0 825.5L1420.0 823.4L1416.0 823.4L1416.0 819.0L1412.0 819.0L1412.0 815.2L1408.0 815.2L1408.0 819.7L1404.0 819.7L1404.0 816.6L1400.0 816.6L1400.0 821.9L1396.0 821.9L1396.0 823.4L1392.0 823.4L1392.0 818.4L1388.0 818.4L1388.0 818.7L1384.0 818.7L1384.0 816.6L1380.0 816.6L1380.0 814.0L1376.0 814.0L1376.0 817.9L1372.0 817.9L1372.0 812.0L1368.0 812.0L1368.0 815.4L1364.0 815.4L1364.0 814.6L1360.0 814.6Z" fill="#f00"/>
</g>
<rect x="888" y="102" width="944.2" height="196" fill="#fff"/>
<rect x="1824.4" y="110" width="2.6" height="182.7" fill="rgba(0,0,0,.215)"/>
<rect x="1832.2" y="106" width="2.7" height="189.5" fill="rgba(0,0,0,.647)"/>
<rect x="896" y="290.2" width="931" height="2.5" fill="rgba(0,0,0,.647)"/>
<rect x="891" y="297.6" width="939" height="2.9" fill="rgba(0,0,0,.215)"/>
<rect x="888" y="102" width="8" height="194" fill="#000"/>
<rect x="888" y="102" width="942.5" height="8" fill="#000"/>
<rect x="1827" y="106" width="5.2" height="189.5" fill="#000"/>
<rect x="891" y="292.7" width="939" height="4.9" fill="#000"/>
<path d="M942.0 159H951.5M956.0 159H965.5M970.0 159H979.5M984.0 159H993.5M998.0 159H1007.5M1012.0 159H1021.5M1026.0 159H1035.5M1040.0 159H1049.5M1054.0 159H1063.5M1068.0 159H1077.5M1082.0 159H1091.5M1096.0 159H1105.5M1110.0 159H1119.5M1124.0 159H1133.5M1138.0 159H1147.5M1152.0 159H1161.5M1166.0 159H1175.5M1180.0 159H1185.3" stroke="#00f" stroke-width="8.5" fill="none"/>
<path d="M940 242H1185.3" stroke="#f00" stroke-width="8.5" fill="none"/>
<g font-family="'Liberation Sans',Arial,sans-serif" font-size="68" fill="#000">
<text transform="translate(1207.2 183.6) scale(.9855 1.03)">NESZ</text>
<text transform="translate(1207.2 265.2) scale(.981 1.02)">HV NRCS in oil spill</text>
<text transform="translate(362.0 1340.3) scale(1 1.035)" text-anchor="middle">25</text>
<text transform="translate(550.4 1340.3) scale(1 1.035)" text-anchor="middle">30</text>
<text transform="translate(738.9 1340.3) scale(1 1.035)" text-anchor="middle">35</text>
<text transform="translate(927.3 1340.3) scale(1 1.035)" text-anchor="middle">40</text>
<text transform="translate(1115.7 1340.3) scale(1 1.035)" text-anchor="middle">45</text>
<text transform="translate(1304.1 1340.3) scale(1 1.035)" text-anchor="middle">50</text>
<text transform="translate(1492.6 1340.3) scale(1 1.035)" text-anchor="middle">55</text>
<text transform="translate(1681.0 1340.3) scale(1 1.035)" text-anchor="middle">60</text>
<text transform="translate(1869.4 1340.3) scale(1 1.035)" text-anchor="middle">65</text>
<text transform="translate(227 87.5) scale(1 1.035)" text-anchor="end">-25</text>
<text transform="translate(227 286.8) scale(1 1.035)" text-anchor="end">-30</text>
<text transform="translate(227 485.5) scale(1 1.035)" text-anchor="end">-35</text>
<text transform="translate(227 684.4) scale(1 1.035)" text-anchor="end">-40</text>
<text transform="translate(227 883.4) scale(1 1.035)" text-anchor="end">-45</text>
<text transform="translate(227 1081.4) scale(1 1.035)" text-anchor="end">-50</text>
<text transform="translate(227 1280.2) scale(1 1.035)" text-anchor="end">-55</text>
<text transform="translate(1059.2 1429.5) scale(.9846 .975)" text-anchor="middle">incdence angle [deg]</text>
<text transform="translate(79.2 661) rotate(-90)" text-anchor="middle" font-size="66.4">[dB]</text>
</g></svg>
</body></html>
